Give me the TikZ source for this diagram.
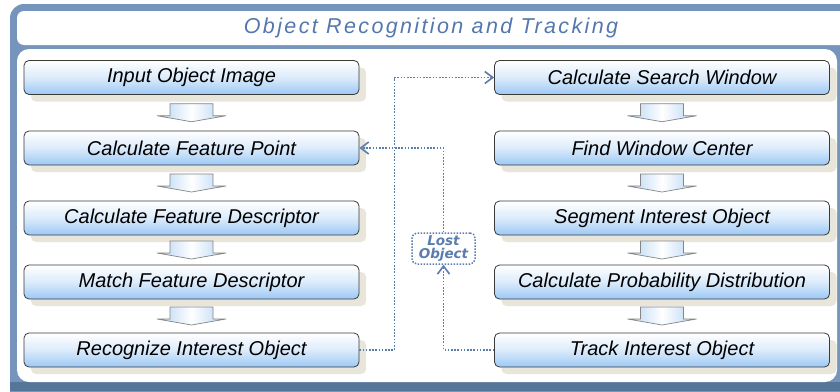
\documentclass[tikz,border=0pt]{standalone}
\usepackage{fontspec}
\setmainfont{Liberation Sans}
\newfontfamily\lostfont{DejaVu Sans}
\newfontfamily\titlefont[LetterSpace=11]{Liberation Sans}
\usetikzlibrary{arrows.meta,shadows,calc}
\definecolor{framec}{HTML}{7595BC}
\definecolor{framedark}{HTML}{557599}
\definecolor{titlec}{HTML}{5478AE}
\definecolor{dotc}{HTML}{5B7DAD}
\definecolor{boxblue}{HTML}{9CC8F5}
\definecolor{boxmid}{HTML}{DCEBFB}
\definecolor{boxline}{HTML}{3A3A3A}
\definecolor{shadowc}{HTML}{E8E5DA}
\definecolor{arrowblue}{HTML}{B3D3F3}
\definecolor{arrowline}{HTML}{858585}
\tikzset{
  stepbox/.style={draw=boxline, line width=0.8pt, rounded corners=5pt,
    top color=white, bottom color=boxblue, middle color=boxmid,
    minimum width=335, minimum height=34, inner sep=0pt,
    font=\itshape\fontsize{20}{22}\selectfont,
    drop shadow={shadow xshift=7pt, shadow yshift=-7pt, fill=shadowc, opacity=1}},
  barrow/.style={draw=arrowline, line width=0.7pt, left color=arrowblue,
    right color=arrowblue, middle color=white},
  dotconn/.style={draw=dotc, line width=1.6pt, dash pattern=on 1.6pt off 1.6pt,
    -{Straight Barb[length=8pt,width=12pt,line width=1.6pt]}},
  lostbox/.style={draw=dotc, line width=1.5pt, dash pattern=on 1.5pt off 1.5pt,
    rounded corners=5pt, minimum width=63, minimum height=31, align=center,
    text=dotc, inner sep=0pt,
    font=\lostfont\bfseries\itshape\fontsize{13.5}{13}\selectfont}
}
\begin{document}
\begin{tikzpicture}[x=1pt,y=-1pt]
\useasboundingbox (0,0) rectangle (840,391);
\begin{scope}
\clip (0,0) rectangle (840,391);
\fill[white] (0,0) rectangle (840,391);
% outer frame
\fill[framec, rounded corners=14] (10,4) rectangle (870,420);
\begin{scope}
\clip[rounded corners=14] (10,4) rectangle (870,420);
\fill[framedark] (0,382) rectangle (870,391);
\end{scope}
% title band
\fill[white, rounded corners=7] (17,11) rectangle (870,45);
% inner panel
\fill[white, rounded corners=12] (17,49) rectangle (837,382);
\end{scope}

\node[font=\titlefont\itshape\fontsize{21.5}{23}\selectfont, text=titlec] (title) at (431,28) {Object Recognition and Tracking};

% left column
\node[stepbox] (ioi) at (191.5,77.5) {Input Object Image};
\node[stepbox] (cfp) at (191.5,148) {Calculate Feature Point};
\node[stepbox] (cfd) at (191.5,218) {Calculate Feature Descriptor};
\node[stepbox] (mfd) at (191.5,282) {Match Feature Descriptor};
\node[stepbox] (rio) at (191.5,350) {Recognize Interest Object};
% right column
\node[stepbox] (csw) at (662,77.5) {Calculate Search Window};
\node[stepbox] (fwc) at (662,148) {Find Window Center};
\node[stepbox] (sio) at (662,218) {Segment Interest Object};
\node[stepbox] (cpd) at (662,282) {Calculate Probability Distribution};
\node[stepbox] (tio) at (662,350) {Track Interest Object};

% block arrows
\foreach \a/\b in {ioi/cfp, cfp/cfd, cfd/mfd, mfd/rio, csw/fwc, fwc/sio, sio/cpd, cpd/tio}{
  \draw[barrow] ($(\a.south)!.5!(\b.north)$) ++(-21.5,-9) -- ++(0,12) -- ++(-13,0)
    -- ++(34.5,6) -- ++(34.5,-6) -- ++(-13,0) -- ++(0,-12) -- cycle;
}

% lost object
\node[lostbox] (lost) at (443.5,248.5) {Lost\\Object};

% dotted connectors
\draw[dotconn] (rio.east) -- ++(35,0) |- (csw.west);
\draw[dotconn] (tio.west) -| (lost.south);
\draw[dotconn] (lost.north) |- (cfp.east);
\end{tikzpicture}
\end{document}
